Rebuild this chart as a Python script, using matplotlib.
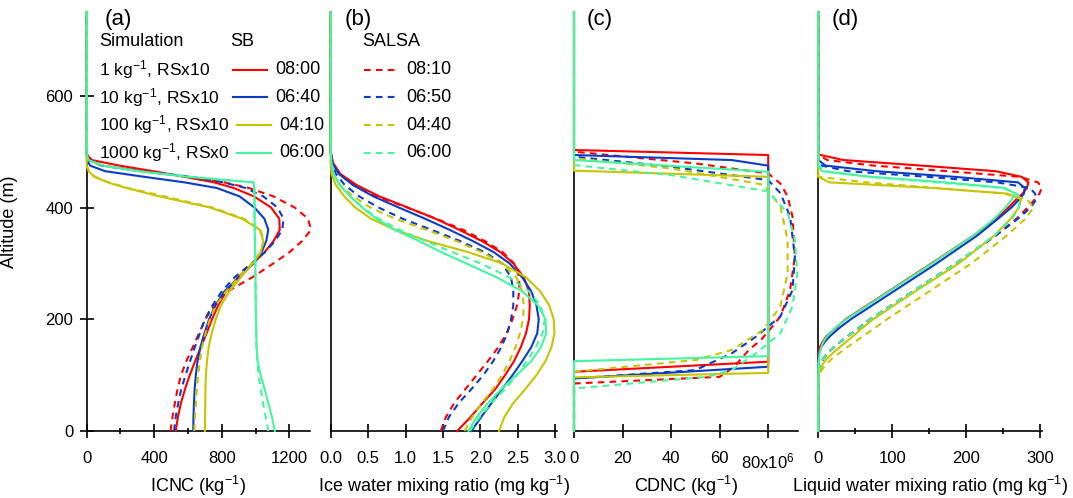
import numpy as np
import matplotlib.pyplot as plt
from matplotlib.lines import Line2D

plt.rcParams['font.family'] = ['Liberation Sans', 'DejaVu Sans']
plt.rcParams['mathtext.default'] = 'regular'

# simulations: colour, legend text and the time of each profile
colors = ['#ff0000', '#0a3cc8', '#c8c400', '#45f5a0']
sim_labels = ['1 kg$^{-1}$, RSx10', '10 kg$^{-1}$, RSx10',
              '100 kg$^{-1}$, RSx10', '1000 kg$^{-1}$, RSx0']
sb_times = ['08:00', '06:40', '04:10', '06:00']
salsa_times = ['08:10', '06:50', '04:40', '06:00']

# (a) ICNC (kg-1), order: 1, 10, 100, 1000 kg-1
z_a = [0, 25, 50, 75, 100, 125, 150, 175, 200, 225, 250, 275, 300, 320, 340, 360, 380, 400, 420, 435, 445, 455, 465, 475, 485, 495, 750]
icnc_sb = [
    [527, 540, 558, 582, 610, 642, 676, 710, 742, 778, 825, 895, 985, 1053, 1106, 1143, 1140, 1092, 990, 870, 755, 580, 395, 195, 30, 2, 0],
    [631, 632, 635, 639, 646, 656, 673, 697, 725, 762, 815, 903, 988, 1035, 1063, 1075, 1052, 993, 905, 770, 580, 340, 110, 20, 3, 0, 0],
    [700, 701, 702, 703, 706, 712, 722, 740, 764, 795, 845, 912, 983, 1030, 1046, 1025, 920, 730, 430, 235, 125, 45, 12, 0, 0, 0, 0],
    [1114, 1097, 1075, 1053, 1030, 1012, 1006, 1004, 1002, 1001, 1000, 999, 998, 997, 996, 995, 994, 994, 993, 992, 988, 600, 310, 100, 10, 0, 0],
]
icnc_salsa = [
    [496, 508, 522, 538, 558, 590, 628, 665, 702, 755, 835, 980, 1105, 1200, 1275, 1328, 1310, 1232, 1105, 960, 815, 590, 340, 90, 10, 0, 0],
    [517, 527, 542, 560, 585, 612, 640, 670, 700, 745, 800, 875, 975, 1055, 1115, 1158, 1165, 1130, 1045, 940, 810, 620, 320, 90, 15, 0, 0],
    [637, 641, 646, 652, 660, 670, 683, 703, 730, 765, 825, 900, 978, 1030, 1048, 1030, 930, 745, 460, 245, 130, 50, 12, 0, 0, 0, 0],
    [1075, 1060, 1044, 1030, 1018, 1010, 1005, 1003, 1002, 1001, 1000, 999, 998, 997, 996, 995, 994, 994, 993, 992, 988, 620, 300, 95, 10, 0, 0],
]

# (b) ice water mixing ratio (mg kg-1)
z_b = [0, 25, 50, 75, 100, 125, 150, 175, 200, 225, 250, 275, 300, 320, 340, 360, 380, 400, 420, 440, 460, 480, 500, 750]
iwc_sb = [
    [1.69, 1.87, 2.03, 2.20, 2.33, 2.45, 2.54, 2.61, 2.65, 2.66, 2.65, 2.58, 2.44, 2.27, 2.02, 1.72, 1.40, 1.03, 0.65, 0.35, 0.13, 0.03, 0, 0],
    [1.88, 2.01, 2.15, 2.29, 2.43, 2.56, 2.68, 2.76, 2.78, 2.75, 2.68, 2.56, 2.39, 2.18, 1.90, 1.59, 1.26, 0.91, 0.57, 0.30, 0.11, 0.02, 0, 0],
    [2.25, 2.32, 2.44, 2.60, 2.75, 2.87, 2.95, 2.99, 2.98, 2.92, 2.80, 2.61, 2.29, 1.84, 1.30, 0.86, 0.54, 0.33, 0.18, 0.07, 0.01, 0, 0, 0],
    [1.84, 1.95, 2.10, 2.28, 2.48, 2.68, 2.81, 2.88, 2.87, 2.77, 2.56, 2.22, 1.81, 1.48, 1.18, 0.86, 0.61, 0.42, 0.26, 0.12, 0.04, 0.01, 0, 0],
]
iwc_salsa = [
    [1.47, 1.54, 1.65, 1.80, 1.95, 2.10, 2.24, 2.35, 2.43, 2.49, 2.52, 2.52, 2.45, 2.30, 2.06, 1.77, 1.41, 1.02, 0.61, 0.31, 0.12, 0.03, 0, 0],
    [1.50, 1.58, 1.71, 1.88, 2.04, 2.17, 2.28, 2.36, 2.41, 2.44, 2.44, 2.41, 2.29, 2.06, 1.73, 1.35, 0.96, 0.64, 0.38, 0.19, 0.07, 0.01, 0, 0],
    [1.79, 1.89, 2.02, 2.17, 2.29, 2.39, 2.47, 2.53, 2.57, 2.58, 2.56, 2.48, 2.29, 2.02, 1.68, 1.28, 0.86, 0.53, 0.30, 0.13, 0.04, 0, 0, 0],
    [1.86, 1.99, 2.15, 2.33, 2.49, 2.62, 2.74, 2.83, 2.86, 2.80, 2.65, 2.39, 2.00, 1.63, 1.27, 0.92, 0.64, 0.43, 0.26, 0.12, 0.04, 0.01, 0, 0],
]

# (c) CDNC (1e6 kg-1), each profile has its own altitudes
cdnc_sb_z = [
    [0, 106, 124, 494, 503, 750],
    [0, 94, 115, 475, 485, 494, 750],
    [0, 96, 104, 455, 466, 750],
    [0, 125, 134, 464, 485, 750],
]
cdnc_sb = [
    [0, 0, 80, 80, 0, 0],
    [0, 0, 80, 80, 65, 0, 0],
    [0, 0, 80, 80, 0, 0],
    [0, 0, 80, 80, 0, 0],
]
cdnc_salsa_z = [
    [0, 85, 97, 109, 115, 145, 163, 178, 205, 252, 312, 384, 420, 443, 461, 479, 500, 750],
    [0, 94, 109, 139, 169, 205, 252, 312, 384, 426, 449, 473, 491, 750],
    [0, 106, 127, 145, 181, 223, 282, 342, 402, 441, 470, 488, 750],
    [0, 76, 97, 109, 139, 175, 223, 282, 342, 390, 429, 458, 476, 750],
]
cdnc_salsa = [
    [0, 0, 60, 64, 66, 72, 77, 80, 85, 89, 91, 90, 88, 85, 80, 50, 0, 0],
    [0, 0, 50, 65, 75, 85, 90, 91, 89, 85, 80, 40, 0, 0],
    [0, 0, 50, 65, 78, 85, 88, 88, 85, 78, 40, 0, 0],
    [0, 0, 55, 65, 75, 85, 90, 92, 91, 88, 80, 40, 0, 0],
]

# (d) liquid water mixing ratio (mg kg-1)
z_d = [0, 100, 110, 120, 130, 140, 150, 160, 170, 185, 200, 250, 300, 350, 380, 400, 415, 425, 435, 445, 455, 465, 475, 485, 495, 750]
lwc_sb = [
    [0, 0, 0, 0, 0, 0, 2, 6, 11, 24, 37, 95, 153, 210, 240, 257, 268, 276, 282, 284, 275, 240, 140, 34, 0, 0],
    [0, 0, 0, 0, 0, 1, 4, 9, 16, 29, 44, 102, 160, 215, 243, 261, 272, 278, 279, 270, 184, 79, 10, 0, 0, 0],
    [0, 0, 3, 6, 12, 20, 29, 38, 47, 60, 74, 131, 190, 238, 260, 271, 274, 255, 155, 15, 0, 0, 0, 0, 0, 0],
    [0, 0, 0, 0, 1, 2, 4, 7, 12, 23, 38, 96, 154, 210, 238, 253, 262, 266, 252, 173, 70, 5, 0, 0, 0, 0],
]
lwc_salsa = [
    [0, 0, 1, 3, 7, 13, 21, 30, 40, 55, 70, 128, 186, 240, 268, 283, 293, 299, 302, 297, 272, 175, 75, 12, 0, 0],
    [0, 0, 1, 3, 7, 13, 21, 30, 40, 55, 70, 128, 186, 240, 270, 287, 295, 293, 286, 242, 147, 40, 5, 0, 0, 0],
    [0, 1, 5, 11, 19, 29, 39, 50, 61, 77, 93, 150, 207, 255, 280, 291, 282, 250, 160, 65, 0, 0, 0, 0, 0, 0],
    [0, 0, 1, 3, 7, 13, 21, 30, 40, 55, 70, 128, 186, 238, 262, 271, 273, 268, 250, 160, 70, 10, 0, 0, 0, 0],
]

W, H = 1073, 498
fig = plt.figure(figsize=(W / 100, H / 100), dpi=100)

# panel extents in pixels (left, right)
y_bot, y_top = 431, 12
extents = [(86.7, 310), (330.7, 556.7), (574, 798.3), (818.3, 1041.7)]
axes = []
for left, right in extents:
    ax = fig.add_axes([left / W, 1 - y_bot / H, (right - left) / W, (y_bot - y_top) / H])
    axes.append(ax)

dash = (0, (3.2, 2.5))
lw = 1.5

ax1, ax2, ax3, ax4 = axes
for i in range(4):
    kw = dict(color=colors[i], lw=lw, clip_on=False, zorder=3)
    ax1.plot(icnc_sb[i], z_a, **kw)
    ax1.plot(icnc_salsa[i], z_a, ls=dash, **kw)
    ax2.plot(iwc_sb[i], z_b, **kw)
    ax2.plot(iwc_salsa[i], z_b, ls=dash, **kw)
    ax3.plot(cdnc_sb[i], cdnc_sb_z[i], **kw)
    ax3.plot(cdnc_salsa[i], cdnc_salsa_z[i], ls=dash, **kw)
    ax4.plot(lwc_sb[i], z_d, **kw)
    ax4.plot(lwc_salsa[i], z_d, ls=dash, **kw)

xlims = [(0, 1322), (0, 3.02), (0, 92.4), (0, 302)]
xlabels = ['ICNC (kg$^{-1}$)', 'Ice water mixing ratio (mg kg$^{-1}$)',
           'CDNC (kg$^{-1}$)', 'Liquid water mixing ratio (mg kg$^{-1}$)']
for ax, xl, lab in zip(axes, xlims, xlabels):
    ax.set_xlim(*xl)
    ax.set_ylim(0, 750)
    for s in ['top', 'right']:
        ax.spines[s].set_visible(False)
    for s in ['left', 'bottom']:
        ax.spines[s].set_linewidth(1.2)
    ax.tick_params(which='major', direction='inout', length=9.5, width=1.2, labelsize=12)
    ax.tick_params(which='minor', direction='inout', length=5, width=1.2)
    ax.tick_params(axis='x', pad=10)
    ax.set_xlabel(lab, fontsize=13)
    ax.xaxis.set_label_coords(0.5, -0.103)
    ax.patch.set_visible(False)

ax1.set_xticks([0, 400, 800, 1200])
ax1.set_xticks([200, 600, 1000], minor=True)
ax1.set_yticks([0, 200, 400, 600])
ax1.tick_params(axis='y', pad=5)
ax1.set_ylabel('Altitude (m)', fontsize=13)
ax1.yaxis.set_label_coords(-0.308, 0.5)

ax2.set_xticks([0, 0.5, 1.0, 1.5, 2.0, 2.5, 3.0])
ax2.set_xticklabels(['0.0', '0.5', '1.0', '1.5', '2.0', '2.5', '3.0'])

ax3.set_xticks([0, 20, 40, 60, 80])
ax3.set_xticklabels(['0', '20', '40', '60', '80x10$^{6}$'])

ax4.set_xticks([0, 100, 200, 300])
ax4.set_xticks([50, 150, 250], minor=True)

for ax in axes[1:]:
    ax.set_yticks([])


def fxy(x, y):
    return x / W, 1 - y / H


# panel letters
for x, letter in zip([105, 345, 587, 832], ['(a)', '(b)', '(c)', '(d)']):
    fig.text(*fxy(x, 19), letter, fontsize=16, va='center', ha='left')

# legend drawn in figure pixels
fig.text(*fxy(99, 42), 'Simulation', fontsize=13, va='center')
fig.text(*fxy(230, 42), 'SB', fontsize=13, va='center')
fig.text(*fxy(362.5, 42), 'SALSA', fontsize=13, va='center')
rows_y = [70, 97.5, 125, 152.5]
row_shift = [0, 0, 4, 4]
for i in range(4):
    y = rows_y[i]
    fig.text(*fxy(99, y), sim_labels[i], fontsize=12.6, va='center')
    x0 = 233 + row_shift[i]
    fig.add_artist(Line2D([x0 / W, (x0 + 34) / W], [1 - y / H, 1 - y / H],
                          color=colors[i], lw=lw))
    fig.text(*fxy(275 + row_shift[i], y), sb_times[i], fontsize=13, va='center')
    fig.add_artist(Line2D([364 / W, 399 / W], [1 - y / H, 1 - y / H],
                          color=colors[i], lw=lw, ls=dash))
    fig.text(*fxy(406.5, y), salsa_times[i], fontsize=13, va='center')

fig.savefig('out.png', dpi=100)
